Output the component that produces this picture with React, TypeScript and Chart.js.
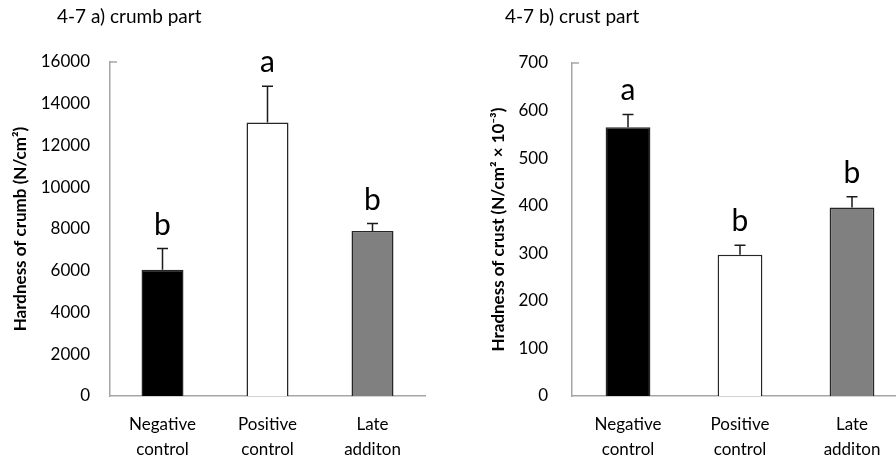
import { useEffect, useRef } from 'react';
import { Chart, registerables } from 'chart.js';

Chart.register(...registerables);

// Shared categories and bar fills
const groupLabels = [['Negative', 'control'], ['Positive', 'control'], ['Late', 'additon']];
const barColors = ['#000000', '#ffffff', '#808080'];

// a) crumb hardness (N/cm²), mean and SD
const crumbValues = [6050, 13100, 7900];
const crumbErrors = [1010, 1740, 360];
const crumbLetters = ['b', 'a', 'b'];

// b) crust hardness (N/cm² × 10⁻³), mean and SD
const crustValues = [565, 297, 396];
const crustErrors = [27, 20, 23];
const crustLetters = ['a', 'b', 'b'];

const FONT = 'Lato, "Open Sans", sans-serif';
const AXIS = '#a6a6a6';
const INK = '#000000';

// Draws SD whiskers, significance letters, the panel caption and the top axis tick
const panelMarks = {
  id: 'panelMarks',
  afterDatasetsDraw(chart: any, _args: any, opts: any) {
    const { ctx, chartArea } = chart;
    const y = chart.scales.y;
    const meta = chart.getDatasetMeta(0);
    const values = chart.data.datasets[0].data as number[];
    ctx.save();
    meta.data.forEach((bar: any, i: number) => {
      const top = y.getPixelForValue(values[i]);
      const end = y.getPixelForValue(values[i] + opts.errors[i]);
      ctx.strokeStyle = '#1a1a1a';
      ctx.lineWidth = 1.5;
      ctx.beginPath();
      ctx.moveTo(bar.x, top);
      ctx.lineTo(bar.x, end);
      ctx.moveTo(bar.x - 5.5, end);
      ctx.lineTo(bar.x + 5.5, end);
      ctx.stroke();
      ctx.fillStyle = INK;
      ctx.font = `30px ${FONT}`;
      ctx.textAlign = 'center';
      ctx.textBaseline = 'alphabetic';
      ctx.fillText(opts.letters[i], bar.x, end - 14);
    });
    // short inward tick at the top of the value axis
    ctx.strokeStyle = AXIS;
    ctx.lineWidth = 1.5;
    ctx.beginPath();
    ctx.moveTo(chartArea.left, chartArea.top);
    ctx.lineTo(chartArea.left + 7, chartArea.top);
    ctx.stroke();
    // panel caption
    ctx.fillStyle = INK;
    ctx.font = `19px ${FONT}`;
    ctx.textAlign = 'left';
    ctx.textBaseline = 'middle';
    ctx.fillText(opts.title, 57, 17);
    ctx.restore();
  },
};

type PanelProps = {
  left: number;
  width: number;
  title: string;
  axisTitle: string;
  values: number[];
  errors: number[];
  letters: string[];
  max: number;
  step: number;
  yWidth: number;
  padRight: number;
  top: number;
  tickPad: number;
  titlePad: number;
};

function Panel(p: PanelProps) {
  const ref = useRef<HTMLCanvasElement>(null);
  useEffect(() => {
    const chart = new Chart(ref.current as HTMLCanvasElement, {
      type: 'bar',
      data: {
        labels: groupLabels,
        datasets: [
          {
            data: p.values,
            backgroundColor: barColors,
            borderColor: '#262626',
            borderWidth: 1.5,
            categoryPercentage: 1,
            barPercentage: 0.4,
          },
        ],
      },
      options: {
        responsive: false,
        maintainAspectRatio: false,
        animation: false,
        layout: { padding: { top: p.top, right: p.padRight, left: 0, bottom: 0 } },
        plugins: {
          legend: { display: false },
          tooltip: { enabled: false },
          panelMarks: { errors: p.errors, letters: p.letters, title: p.title },
        } as any,
        scales: {
          x: {
            grid: { display: false, drawTicks: false },
            border: { display: true, color: AXIS, width: 1.5 },
            ticks: {
              color: INK,
              font: { family: FONT, size: 17, lineHeight: 1.47 },
              padding: 16,
              maxRotation: 0,
              autoSkip: false,
            },
            afterFit: (s: any) => {
              s.height = 68;
            },
          },
          y: {
            min: 0,
            max: p.max,
            grid: { display: false, drawTicks: false },
            border: { display: true, color: AXIS, width: 1.5 },
            ticks: {
              stepSize: p.step,
              color: INK,
              font: { family: FONT, size: 17 },
              padding: p.tickPad,
              callback: (v: any) => String(v),
            },
            title: {
              display: true,
              text: p.axisTitle,
              color: INK,
              font: { family: FONT, size: 17, weight: 'bold' },
              padding: { top: p.titlePad, bottom: 0 },
            },
            afterFit: (s: any) => {
              s.width = p.yWidth;
            },
          },
        },
      },
      plugins: [panelMarks],
    });
    return () => chart.destroy();
  }, []);
  return (
    <canvas
      ref={ref}
      width={p.width}
      height={464}
      style={{ position: 'absolute', left: p.left, top: 0, width: p.width, height: 464 }}
    />
  );
}

export default function App() {
  return (
    <div
      style={{
        position: 'fixed',
        left: 0,
        top: 0,
        width: 896,
        height: 464,
        overflow: 'hidden',
        background: '#ffffff',
      }}
    >
      <Panel
        left={0}
        width={448}
        title="4-7 a) crumb part"
        axisTitle="Hardness of crumb (N/cm²)"
        values={crumbValues}
        errors={crumbErrors}
        letters={crumbLetters}
        max={16000}
        step={2000}
        yWidth={110}
        padRight={23}
        top={62}
        tickPad={20}
        titlePad={10}
      />
      <Panel
        left={448}
        width={470}
        title="4-7 b) crust part"
        axisTitle="Hradness of crust (N/cm² × 10⁻³)"
        values={crustValues}
        errors={crustErrors}
        letters={crustLetters}
        max={700}
        step={100}
        yWidth={124}
        padRight={10}
        top={63}
        tickPad={24}
        titlePad={40}
      />
    </div>
  );
}
